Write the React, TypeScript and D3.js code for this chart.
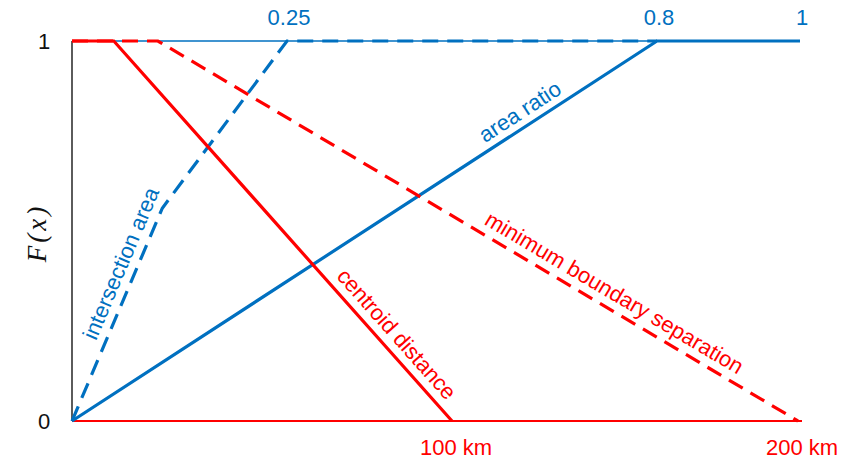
import React from "react";
import * as d3 from "d3";

// Normalised overlap measures (blue): x in [0, 1]
const areaRatio: [number, number][] = [
  [0, 0],
  [0.8, 1],
  [1, 1],
];
const intersectionArea: [number, number][] = [
  [0, 0],
  [0.105, 0.56],
  [0.25, 1],
  [0.8, 1],
];
const blueTicks = [0.25, 0.8, 1];

// Distance measures (red): x in km
const centroidDistance: [number, number][] = [
  [0, 1],
  [11, 1],
  [100, 0],
];
const boundarySeparation: [number, number][] = [
  [0, 1],
  [22.6, 1],
  [200, 0],
];
const redTicks = [100, 200];
const yTicks = [0, 1];

const BLUE = "#0070C0";
const RED = "#FF0000";
const FONT = "'Liberation Sans', Arial, sans-serif";

const W = 852;
const H = 459;

// Schematic axes: piecewise-linear scales place the key thresholds
const xBlue = d3.scaleLinear().domain([0, 0.25, 0.8, 1]).range([72, 287, 657, 800]);
const xRed = d3.scaleLinear().domain([0, 100, 200]).range([72, 452, 798]);
const y = d3.scaleLinear().domain([0, 1]).range([421, 41]);

const blueLine = d3
  .line<[number, number]>()
  .x((d) => xBlue(d[0]))
  .y((d) => y(d[1]));
const redLine = d3
  .line<[number, number]>()
  .x((d) => xRed(d[0]))
  .y((d) => y(d[1]));

// Place a label along a pixel segment, rotated with it, offset above the line
function along(
  p0: [number, number],
  p1: [number, number],
  t: number,
  lift: number
) {
  const x = p0[0] + (p1[0] - p0[0]) * t;
  const yy = p0[1] + (p1[1] - p0[1]) * t;
  const ang = (Math.atan2(p1[1] - p0[1], p1[0] - p0[0]) * 180) / Math.PI;
  return { transform: `translate(${x},${yy}) rotate(${ang})`, dy: -lift };
}

const px = (s: (v: number) => number, d: [number, number]): [number, number] => [
  s(d[0]),
  y(d[1]),
];

export default function App() {
  const dash = "16,9";
  const lblArea = along(px(xBlue, areaRatio[0]), px(xBlue, areaRatio[1]), 0.78, 8);
  const lblInter = along(
    px(xBlue, intersectionArea[0]),
    px(xBlue, intersectionArea[1]),
    0.71,
    9
  );
  const lblCentroid = along(
    px(xRed, centroidDistance[1]),
    px(xRed, centroidDistance[2]),
    0.8,
    9
  );
  const lblBoundary = along(
    px(xRed, boundarySeparation[1]),
    px(xRed, boundarySeparation[2]),
    0.7,
    9
  );

  return (
    <svg
      width={W}
      height={H}
      style={{ position: "absolute", left: 0, top: 0, background: "#fff" }}
      fontFamily={FONT}
    >
      {/* reference line at F = 1 */}
      <line x1={xBlue(0)} x2={xBlue(1)} y1={y(1)} y2={y(1)} stroke={BLUE} strokeWidth={1.6} />
      {/* vertical axis */}
      <line x1={xBlue(0)} x2={xBlue(0)} y1={y(0)} y2={y(1)} stroke="#333" strokeWidth={1.6} />
      {/* baseline */}
      <line x1={xRed(0)} x2={802} y1={y(0)} y2={y(0)} stroke={RED} strokeWidth={1.8} />

      <path d={blueLine(intersectionArea) ?? ""} fill="none" stroke={BLUE} strokeWidth={3.2} strokeDasharray={dash} />
      <path d={blueLine(areaRatio) ?? ""} fill="none" stroke={BLUE} strokeWidth={3.2} />
      <path d={redLine(boundarySeparation) ?? ""} fill="none" stroke={RED} strokeWidth={3.2} strokeDasharray={dash} />
      <path d={redLine(centroidDistance) ?? ""} fill="none" stroke={RED} strokeWidth={3.2} />

      {yTicks.map((t) => (
        <text key={t} x={44} y={y(t) + 8} fontSize={22} textAnchor="middle" fill="#111">
          {t}
        </text>
      ))}
      {blueTicks.map((t) => (
        <text key={t} x={xBlue(t) + 2} y={25} fontSize={22} textAnchor="middle" fill={BLUE}>
          {t}
        </text>
      ))}
      {redTicks.map((t) => (
        <text key={t} x={xRed(t) + 4} y={455} fontSize={22} textAnchor="middle" fill={RED}>
          {`${t} km`}
        </text>
      ))}

      <text
        transform="translate(46,233) rotate(-90)"
        fontFamily="'Liberation Serif', 'Times New Roman', serif"
        fontStyle="italic"
        fontSize={27}
        letterSpacing={3}
        textAnchor="middle"
        fill="#111"
      >
        F(x)
      </text>

      <g transform={lblArea.transform}>
        <text dy={lblArea.dy} fontSize={22} textAnchor="middle" fill={BLUE}>
          area ratio
        </text>
      </g>
      <g transform={lblInter.transform}>
        <text dy={lblInter.dy} fontSize={22} textAnchor="middle" fill={BLUE}>
          intersection area
        </text>
      </g>
      <g transform={lblCentroid.transform}>
        <text dy={lblCentroid.dy} fontSize={22} textAnchor="middle" fill={RED}>
          centroid distance
        </text>
      </g>
      <g transform={lblBoundary.transform}>
        <text dy={lblBoundary.dy} fontSize={22} textAnchor="middle" fill={RED}>
          minimum boundary separation
        </text>
      </g>
    </svg>
  );
}
